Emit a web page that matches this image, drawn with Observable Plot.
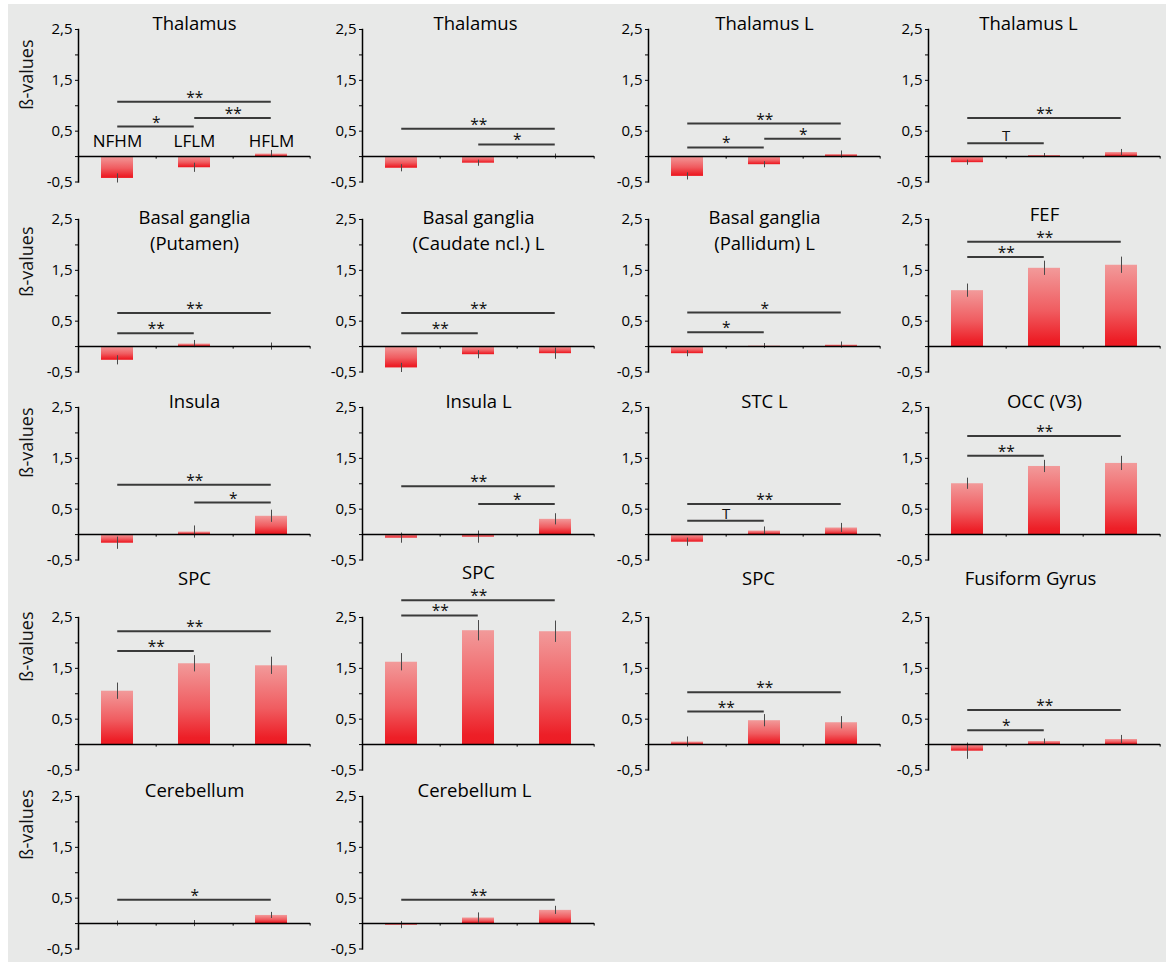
<!DOCTYPE html>
<html><head><meta charset="utf-8">
<script src="https://cdn.jsdelivr.net/npm/d3@7"></script>
<script src="https://cdn.jsdelivr.net/npm/@observablehq/plot@0.6"></script>
<style>
html,body{margin:0;padding:0;background:#fff;}
#bg{position:absolute;left:8px;top:4px;width:1158px;height:958px;background:#e8e9e8;}
.panel{position:absolute;}
</style></head><body>
<div id="bg"></div>
<script>
const categories = ["NFHM", "LFLM", "HFLM"];
const regions = [
  "Thalamus", "Thalamus", "Thalamus L", "Thalamus L",
  "Basal ganglia\n(Putamen)", "Basal ganglia\n(Caudate ncl.) L", "Basal ganglia\n(Pallidum) L", "FEF",
  "Insula", "Insula L", "STC L", "OCC (V3)",
  "SPC", "SPC", "SPC", "Fusiform Gyrus",
  "Cerebellum", "Cerebellum L"
];
const betaNFHM = [-0.43, -0.23, -0.39, -0.12, -0.27, -0.42, -0.14, 1.10, -0.17, -0.07, -0.15, 1.00, 1.05, 1.62, 0.05, -0.13, 0.00, -0.03];
const betaLFLM = [-0.22, -0.13, -0.16, 0.02, 0.05, -0.16, 0.01, 1.54, 0.05, -0.05, 0.07, 1.34, 1.59, 2.24, 0.47, 0.06, 0.00, 0.11];
const betaHFLM = [0.05, 0.00, 0.04, 0.08, 0.00, -0.14, 0.03, 1.60, 0.36, 0.30, 0.13, 1.40, 1.55, 2.22, 0.43, 0.10, 0.16, 0.26];
const errNFHM = [0.09, 0.07, 0.07, 0.05, 0.09, 0.09, 0.06, 0.13, 0.12, 0.10, 0.08, 0.11, 0.16, 0.17, 0.10, 0.16, 0.05, 0.07];
const errLFLM = [0.09, 0.06, 0.06, 0.04, 0.07, 0.08, 0.05, 0.14, 0.12, 0.12, 0.08, 0.12, 0.16, 0.20, 0.12, 0.05, 0.06, 0.10];
const errHFLM = [0.07, 0.05, 0.07, 0.06, 0.07, 0.11, 0.06, 0.16, 0.12, 0.11, 0.09, 0.14, 0.17, 0.21, 0.12, 0.08, 0.06, 0.08];
// [first condition index, second condition index, bracket level, significance]
const sigComparisons = [
  [[0, 2, 1.08, "**"], [0, 1, 0.59, "*"], [1, 2, 0.76, "**"]],
  [[0, 2, 0.55, "**"], [1, 2, 0.24, "*"]],
  [[0, 2, 0.65, "**"], [0, 1, 0.18, "*"], [1, 2, 0.35, "*"]],
  [[0, 2, 0.76, "**"], [0, 1, 0.26, "T"]],
  [[0, 2, 0.66, "**"], [0, 1, 0.26, "**"]],
  [[0, 2, 0.66, "**"], [0, 1, 0.26, "**"]],
  [[0, 2, 0.67, "*"], [0, 1, 0.28, "*"]],
  [[0, 2, 2.06, "**"], [0, 1, 1.76, "**"]],
  [[0, 2, 0.98, "**"], [1, 2, 0.63, "*"]],
  [[0, 2, 0.95, "**"], [1, 2, 0.60, "*"]],
  [[0, 2, 0.60, "**"], [0, 1, 0.27, "T"]],
  [[0, 2, 1.94, "**"], [0, 1, 1.55, "**"]],
  [[0, 2, 2.23, "**"], [0, 1, 1.84, "**"]],
  [[0, 2, 2.84, "**"], [0, 1, 2.54, "**"]],
  [[0, 2, 1.03, "**"], [0, 1, 0.65, "**"]],
  [[0, 2, 0.68, "**"], [0, 1, 0.28, "*"]],
  [[0, 2, 0.47, "*"]],
  [[0, 2, 0.47, "**"]]
];
const yTicks = [-0.5, 0.5, 1.5, 2.5];
const yMinorTicks = [0, 1, 2];
const yLabel = "ß-values";

// layout
const axisLeft = [78, 362, 648, 928];
const rowTop = [29, 219.3, 406.7, 616.7, 796];
const titleShift = [0, 4, 0, -33, 0];
const yLabelShift = [4, 1, -6, -12, -13];
const titleDx = [0, -3, 0, -16, 0, 0, 0, 0, 0, 0, 0, 0, 0, 0, -6, -14, 0, -4];
const titleDy = [0, 0, 0, 0, 0, 0, 0, -3, 0, 0, 0, 0, 0, -6, 0, 0, 0, 0];
const mTop = 58, mBottom = 12, mLeft = 75, mRight = 6;
const innerW = 232, innerH = 152.5;
const step = innerW / 3;
const padInner = 0.58, padOuter = 0.29;
const bw = step * (1 - padInner);
const titleSize = 18.5, titleLH = 1.45;
const font = "'Open Sans', sans-serif";

const betas = [betaNFHM, betaLFLM, betaHFLM];
const errs = [errNFHM, errLFLM, errHFLM];

regions.forEach((title, k) => {
  const col = k % 4, row = Math.floor(k / 4);
  const data = categories.map((c, i) => ({cat: c, beta: betas[i][k], err: errs[i][k]}));
  const sigs = sigComparisons[k].map(([a, b, level, label]) => ({from: categories[a], to: categories[b], level, label, span: b - a}));
  const gid = "barGrad" + k;
  const nLines = title.split("\n").length;
  const marks = [
    () => {
      const defs = document.createElementNS("http://www.w3.org/2000/svg", "defs");
      defs.innerHTML = `<linearGradient id="${gid}" x1="0" y1="0" x2="0" y2="1">
        <stop offset="0" stop-color="#f29a9a"/>
        <stop offset="0.55" stop-color="#f05c60"/>
        <stop offset="0.92" stop-color="#ed1f27"/>
        <stop offset="1" stop-color="#ed1c24"/></linearGradient>`;
      return defs;
    },
    Plot.barY(data, {x: "cat", y: "beta", fill: `url(#${gid})`}),
    Plot.ruleX(data, {x: "cat", y1: d => d.beta - d.err, y2: d => d.beta + d.err, stroke: "#4a4a4a", strokeWidth: 1}),
    Plot.ruleY([0], {stroke: "#000", strokeWidth: 1.5}),
    Plot.ruleX(categories, {x: d => d, dx: step / 2, y1: 0, y2: -0.05, stroke: "#000", strokeWidth: 1}),
    Plot.frame({anchor: "left", stroke: "#000", strokeWidth: 1.5}),
    Plot.axisY({ticks: yTicks, tickFormat: d => String(d).replace(".", ","), tickSize: 3, tickPadding: 3, label: null, fontSize: 15, stroke: "#000", fill: "#000"}),
    Plot.axisY({ticks: yMinorTicks, tickFormat: () => "", tickSize: 3, label: null, stroke: "#000"}),
    Plot.ruleY(sigs, {y: "level", x1: "from", x2: "to", insetLeft: bw / 2, insetRight: bw / 2, stroke: "#3a3a3a", strokeWidth: 2}),
    ...sigs.map(s => Plot.text([s], {x: "from", y: "level", text: "label", dx: s.span * step / 2, dy: s.label === "T" ? -2 : 1, lineAnchor: "bottom", fontSize: s.label === "T" ? 15 : 15.5, fill: "#111"})),
    Plot.text([title], {frameAnchor: "top", text: d => d, lineAnchor: "bottom", dy: titleShift[row] + titleDy[k] + (nLines - 1) * titleSize * titleLH, dx: titleDx[k], fontSize: titleSize, lineHeight: titleLH, fill: "#000"})
  ];
  if (col === 0) {
    marks.push(Plot.text([yLabel], {frameAnchor: "left", text: d => d, rotate: -90, dx: -51.5, dy: yLabelShift[row], fontSize: 18, fill: "#111"}));
  }
  if (k === 0) {
    marks.push(Plot.text(categories, {x: d => d, y: 0.18, text: d => d, lineAnchor: "bottom", fontSize: 17, fill: "#000"}));
  }
  const chart = Plot.plot({
    width: mLeft + innerW + mRight,
    height: mTop + innerH + mBottom,
    marginTop: mTop, marginBottom: mBottom, marginLeft: mLeft, marginRight: mRight,
    x: {type: "band", domain: categories, paddingInner: padInner, paddingOuter: padOuter, axis: null},
    y: {domain: [-0.5, 2.5]},
    style: {background: "transparent", fontFamily: font, fontSize: "15px", color: "#000", overflow: "visible"},
    marks
  });
  const div = document.createElement("div");
  div.className = "panel";
  div.style.left = (axisLeft[col] - mLeft) + "px";
  div.style.top = (rowTop[row] - mTop) + "px";
  div.style.width = (mLeft + innerW + mRight) + "px";
  div.appendChild(chart);
  document.body.appendChild(div);
});
</script>
</body></html>
